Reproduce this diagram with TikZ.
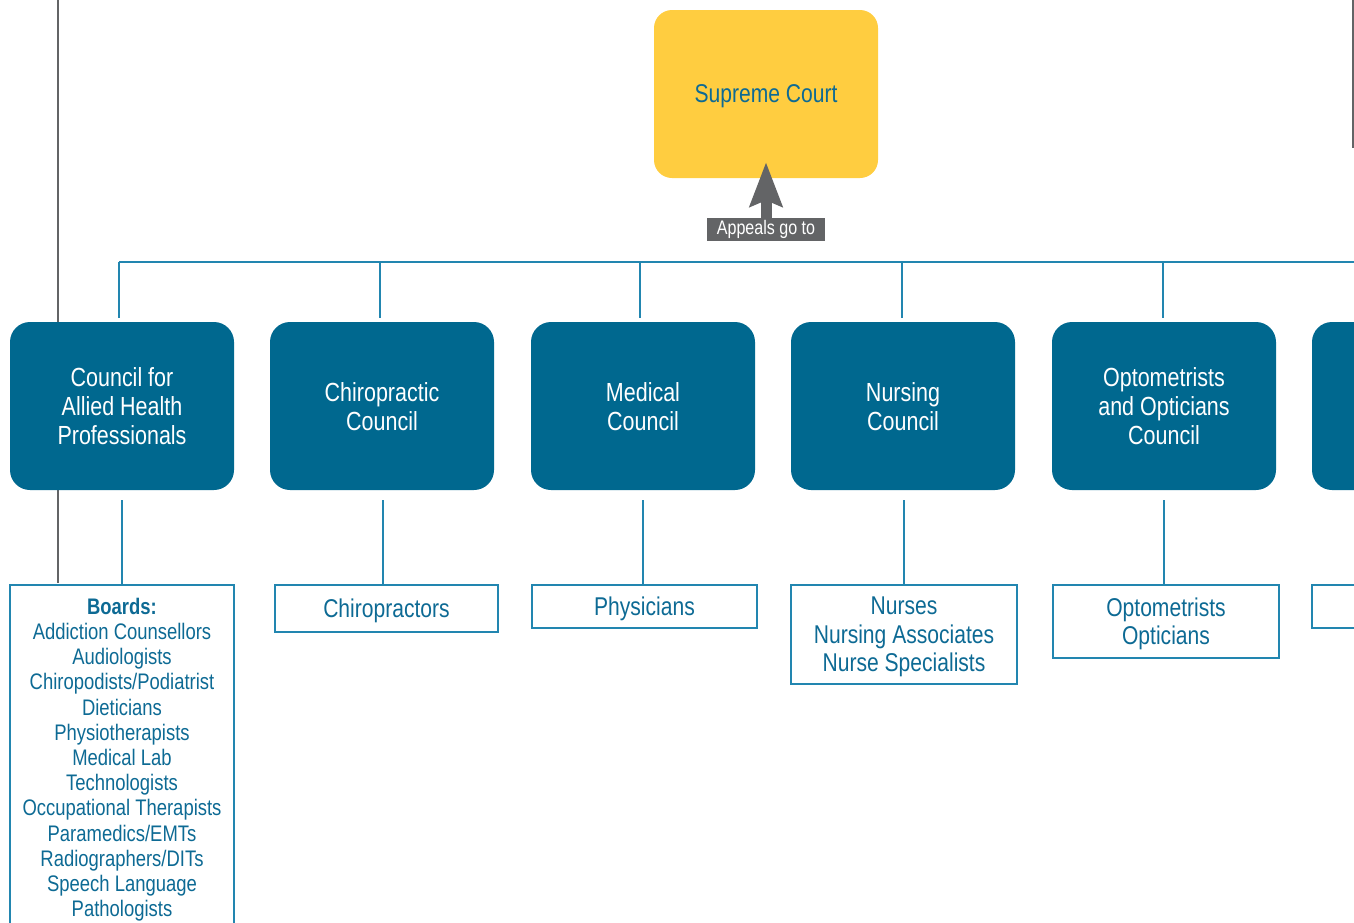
\documentclass[tikz,border=0pt]{standalone}
\usepackage{fontspec}
\setmainfont{Liberation Sans}[FakeStretch=0.82]
\usetikzlibrary{arrows.meta}
\definecolor{cblue}{HTML}{00688F}
\definecolor{tblue}{HTML}{0D6A94}
\definecolor{lblue}{HTML}{2286B0}
\definecolor{cyellow}{HTML}{FFCD40}
\definecolor{cgray}{HTML}{636466}
\begin{document}
\begin{tikzpicture}[x=1pt,y=-1pt,
  council/.style={fill=cblue, rounded corners=20pt, minimum width=224pt, minimum height=168pt,
    text=white, align=center, font=\fontsize{26.2}{29}\selectfont, inner sep=0pt, text depth=-4pt},
  member/.style={draw=lblue, line width=1.6pt, text=tblue, align=center, anchor=north,
    font=\fontsize{25.7}{28.5}\selectfont, inner sep=0pt, text depth=-3pt},
  link/.style={draw=lblue, line width=1.4pt},
  grayline/.style={draw=cgray, line width=1.3pt}
]
\useasboundingbox (0,0) rectangle (1354,922);

% gray background lines
\coordinate (g1) at (58,0);
\coordinate (g2) at (58,583);
\draw[grayline] (g1) -- (g2);
\coordinate (g3) at (1353,0);
\coordinate (g4) at (1353,148);
\draw[grayline] (g3) -- (g4);

% supreme court
\node[fill=cyellow, rounded corners=18pt, minimum width=224pt, minimum height=168pt,
  text=tblue, font=\fontsize{25.7}{29}\selectfont, inner sep=0pt, text depth=-4pt] (sc) at (766,94) {Supreme Court};

% appeals label
\node[fill=cgray, text=white, font=\fontsize{19.6}{22}\selectfont, minimum width=118pt,
  minimum height=23pt, inner sep=0pt] (ap) at (766,229.5) {Appeals go to};
\draw[cgray, line width=11pt, -{Stealth[width=32pt,length=44pt,inset=6pt]}, shorten >=-16pt]
  (ap.north) -- (sc.south);

% councils
\node[council] (c1) at (122,406) {Council for\\Allied Health\\Professionals};
\node[council] (c2) at (382,406) {Chiropractic\\Council};
\node[council] (c3) at (643,406) {Medical\\Council};
\node[council] (c4) at (903,406) {Nursing\\Council};
\node[council] (c5) at (1164,406) {Optometrists\\and Opticians\\Council};
\node[council] (c6) at (1424,406) {};

% bus
\coordinate (b1) at (119,262);
\coordinate (b2) at (380,262);
\coordinate (b3) at (640,262);
\coordinate (b4) at (902,262);
\coordinate (b5) at (1163,262);
\coordinate (bR) at (1354,262);
\draw[link] (bR) -- (b1);
\draw[link, shorten >=4pt] (b1) -- (b1 |- c1.north);
\draw[link, shorten >=4pt] (b2) -- (b2 |- c2.north);
\draw[link, shorten >=4pt] (b3) -- (b3 |- c3.north);
\draw[link, shorten >=4pt] (b4) -- (b4 |- c4.north);
\draw[link, shorten >=4pt] (b5) -- (b5 |- c5.north);

% members
\node[member, minimum width=224pt, minimum height=345pt, anchor=north, font=\fontsize{22.5}{25.2}\selectfont,
  inner ysep=13pt, text depth=0pt] (m1) at (122,584) {\textbf{Boards:}\\Addiction Counsellors\\Audiologists\\Chiropodists/Podiatrist\\Dieticians\\Physiotherapists\\Medical Lab\\Technologists\\Occupational Therapists\\Paramedics/EMTs\\Radiographers/DITs\\Speech Language\\Pathologists};
\node[member, minimum width=223pt, minimum height=47pt] (m2) at (386.5,584) {Chiropractors};
\node[member, minimum width=225pt, minimum height=43pt] (m3) at (644.5,584) {Physicians};
\node[member, minimum width=226pt, minimum height=99pt] (m4) at (904,584) {Nurses\\Nursing Associates\\Nurse Specialists};
\node[member, minimum width=226pt, minimum height=73pt] (m5) at (1166,584) {Optometrists\\Opticians};
\node[member, minimum width=224pt, minimum height=43pt] (m6) at (1424,584) {};

% lower links
\draw[link, shorten <=10pt] (c1.south) -- (c1.south |- m1.north);
\draw[link, shorten <=10pt] ([xshift=1pt]c2.south) -- ([xshift=1pt]c2.south |- m2.north);
\draw[link, shorten <=10pt] (c3.south) -- (c3.south |- m3.north);
\draw[link, shorten <=10pt] ([xshift=1pt]c4.south) -- ([xshift=1pt]c4.south |- m4.north);
\draw[link, shorten <=10pt] (c5.south) -- (c5.south |- m5.north);
\end{tikzpicture}
\end{document}
